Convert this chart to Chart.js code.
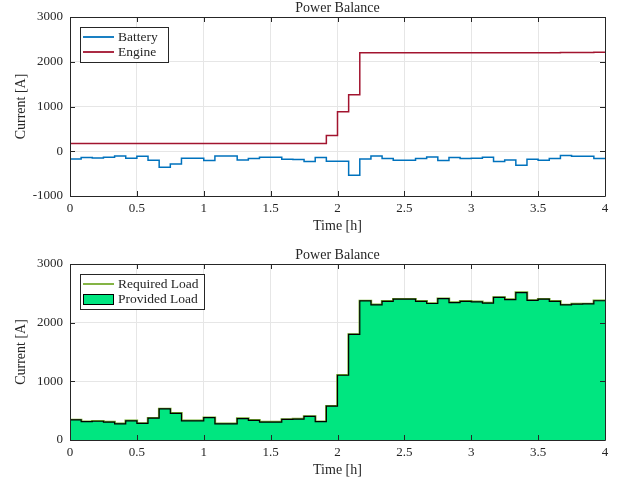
<!DOCTYPE html>
<html>
<head>
<meta charset="utf-8">
<script src="https://cdn.jsdelivr.net/npm/chart.js@4.4.1/dist/chart.umd.min.js"></script>
<style>
  html, body { margin: 0; padding: 0; background: #fff; }
  .wrap { position: absolute; left: 0; width: 625px; height: 242px; }
  #top { top: 0; }
  #bottom { top: 242px; }
</style>
</head>
<body>
<div class="wrap" id="top"><canvas id="chartTop" width="625" height="242"></canvas></div>
<div class="wrap" id="bottom"><canvas id="chartBottom" width="625" height="242"></canvas></div>
<script>
// ---- data (one value per 5-minute step, 0 .. 4 h) ----
const STEP_H = 1 / 12;
const xTicks = [0, 0.5, 1, 1.5, 2, 2.5, 3, 3.5, 4];
const yTicksTop = [-1000, 0, 1000, 2000, 3000];
const yTicksBottom = [0, 1000, 2000, 3000];

const battery = [
  -171, -142, -149, -134, -104, -156, -112, -201, -358, -283, -156, -156,
  -209, -104, -104, -194, -164, -134, -134, -179, -186, -231, -142, -224,
  -224, -536, -171, -104, -164, -201, -201, -164, -127, -209, -142, -164,
  -156, -134, -231, -194, -313, -179, -201, -164, -97, -112, -112, -164
];
const engine = [
  171, 171, 171, 171, 171, 171, 171, 171, 171, 171, 171, 171,
  171, 171, 171, 171, 171, 171, 171, 171, 171, 171, 171, 353,
  880, 1263, 2200, 2200, 2200, 2200, 2200, 2200, 2200, 2200, 2200, 2200,
  2200, 2200, 2200, 2200, 2200, 2200, 2200, 2200, 2205, 2205, 2208, 2210
];
const requiredLoad = [
  342, 313, 320, 305, 275, 327, 283, 372, 529, 454, 327, 327,
  380, 275, 275, 365, 335, 305, 305, 350, 357, 402, 313, 577,
  1104, 1799, 2371, 2304, 2364, 2401, 2401, 2364, 2327, 2409, 2342, 2364,
  2356, 2334, 2431, 2394, 2513, 2379, 2401, 2364, 2302, 2317, 2320, 2374
];
const providedLoad = requiredLoad.slice();

const TITLE = "Power Balance";
const XLABEL = "Time [h]";
const YLABEL = "Current [A]";

// colours (MATLAB defaults)
const C_BATT = "#0072BD";
const C_ENG = "#A2142F";
const C_REQ = "#77AC30";
const C_FILL = "#00E680";
const FONT = "'Liberation Serif', 'DejaVu Serif', serif";

// per-canvas extras (kept out of chart options so they aren't proxied)
const extras = {
  chartTop: {
    yTicks: yTicksTop, legendW: 88,
    items: [{ label: "Battery", color: C_BATT }, { label: "Engine", color: C_ENG }]
  },
  chartBottom: {
    yTicks: yTicksBottom, legendW: 124,
    items: [{ label: "Required Load", color: C_REQ }, { label: "Provided Load", area: C_FILL }]
  }
};

// step series: value holds from its start time to the next start
function steps(values) {
  const pts = values.map((v, i) => ({ x: i * STEP_H, y: v }));
  pts.push({ x: values.length * STEP_H, y: values[values.length - 1] });
  return pts;
}

// frame, inward ticks, titles, legend
const decor = {
  id: "decor",
  afterDraw(chart) {
    const ex = extras[chart.canvas.id];
    const { ctx, chartArea: a } = chart;
    const xs = chart.scales.x, ys = chart.scales.y;
    ctx.save();
    ctx.strokeStyle = "#262626";
    ctx.lineWidth = 1;
    ctx.beginPath();
    ctx.rect(Math.round(a.left) + 0.5, Math.round(a.top) + 0.5,
      Math.round(a.right - a.left), Math.round(a.bottom - a.top));
    ctx.stroke();
    ctx.beginPath();
    xTicks.forEach(t => {
      const px = Math.round(xs.getPixelForValue(t)) + 0.5;
      ctx.moveTo(px, a.bottom); ctx.lineTo(px, a.bottom - 5);
      ctx.moveTo(px, a.top); ctx.lineTo(px, a.top + 5);
    });
    ex.yTicks.forEach(t => {
      const py = Math.round(ys.getPixelForValue(t)) + 0.5;
      ctx.moveTo(a.left, py); ctx.lineTo(a.left + 5, py);
      ctx.moveTo(a.right, py); ctx.lineTo(a.right - 5, py);
    });
    ctx.stroke();

    // titles
    ctx.fillStyle = "#262626";
    ctx.font = "14px " + FONT;
    ctx.textAlign = "center";
    ctx.textBaseline = "middle";
    ctx.fillText(TITLE, (a.left + a.right) / 2, a.top - 9);
    ctx.fillText(XLABEL, (a.left + a.right) / 2, a.bottom + 30);
    ctx.save();
    ctx.translate(21, (a.top + a.bottom) / 2);
    ctx.rotate(-Math.PI / 2);
    ctx.fillText(YLABEL, 0, 0);
    ctx.restore();

    // legend box
    const bx = Math.round(a.left) + 10, by = Math.round(a.top) + 10;
    ctx.fillStyle = "#fff";
    ctx.fillRect(bx, by, ex.legendW, 35);
    ctx.strokeStyle = "#262626";
    ctx.lineWidth = 1;
    ctx.strokeRect(bx + 0.5, by + 0.5, ex.legendW, 35);
    ctx.font = "13.5px " + FONT;
    ctx.textAlign = "left";
    ex.items.forEach((it, i) => {
      const cy = by + 10 + i * 15;
      if (it.area) {
        ctx.fillStyle = it.area;
        ctx.fillRect(bx + 3, cy - 5, 31, 10);
        ctx.strokeStyle = "#000";
        ctx.lineWidth = 1;
        ctx.strokeRect(bx + 3.5, cy - 4.5, 30, 10);
      } else {
        ctx.strokeStyle = it.color;
        ctx.lineWidth = 1.8;
        ctx.beginPath();
        ctx.moveTo(bx + 3, cy); ctx.lineTo(bx + 34, cy);
        ctx.stroke();
      }
      ctx.fillStyle = "#262626";
      ctx.fillText(it.label, bx + 38, cy);
    });
    ctx.restore();
  }
};

function baseOptions(yMin, yMax, padTop, xAxisH, yTicks) {
  return {
    responsive: false,
    animation: false,
    layout: { padding: { top: padTop, right: 20, left: 0, bottom: 0 } },
    plugins: {
      legend: { display: false },
      title: { display: false },
      tooltip: { enabled: false }
    },
    scales: {
      x: {
        type: "linear", min: 0, max: 4,
        afterBuildTicks: s => { s.ticks = xTicks.map(v => ({ value: v })); },
        grid: { color: "#e6e6e6", drawTicks: false },
        border: { display: false },
        ticks: { color: "#262626", padding: 5, font: { family: FONT, size: 13 }, maxRotation: 0,
          callback: v => String(v) },
        afterFit: s => { s.height = xAxisH; }
      },
      y: {
        min: yMin, max: yMax,
        afterBuildTicks: s => { s.ticks = yTicks.map(v => ({ value: v })); },
        grid: { color: "#e6e6e6", drawTicks: false },
        border: { display: false },
        ticks: { color: "#262626", padding: 7, font: { family: FONT, size: 13 },
          callback: v => String(v) },
        afterFit: s => { s.width = 70; }
      }
    }
  };
}

new Chart(document.getElementById("chartTop"), {
  type: "line",
  data: {
    datasets: [
      { label: "Battery", data: steps(battery), borderColor: C_BATT, borderWidth: 1.5,
        pointRadius: 0, stepped: "before", fill: false },
      { label: "Engine", data: steps(engine), borderColor: C_ENG, borderWidth: 1.5,
        pointRadius: 0, stepped: "before", fill: false }
    ]
  },
  options: baseOptions(-1000, 3000, 17, 46, yTicksTop),
  plugins: [decor]
});

new Chart(document.getElementById("chartBottom"), {
  type: "line",
  data: {
    datasets: [
      { label: "Required Load", data: steps(requiredLoad), borderColor: C_REQ, borderWidth: 2.5,
        pointRadius: 0, stepped: "before", fill: false, order: 1 },
      { label: "Provided Load", data: steps(providedLoad), borderColor: "#000", borderWidth: 1.2,
        backgroundColor: C_FILL, pointRadius: 0, stepped: "before", fill: "origin", order: 0 }
    ]
  },
  options: baseOptions(0, 3000, 22, 44, yTicksBottom),
  plugins: [decor]
});
</script>
</body>
</html>
